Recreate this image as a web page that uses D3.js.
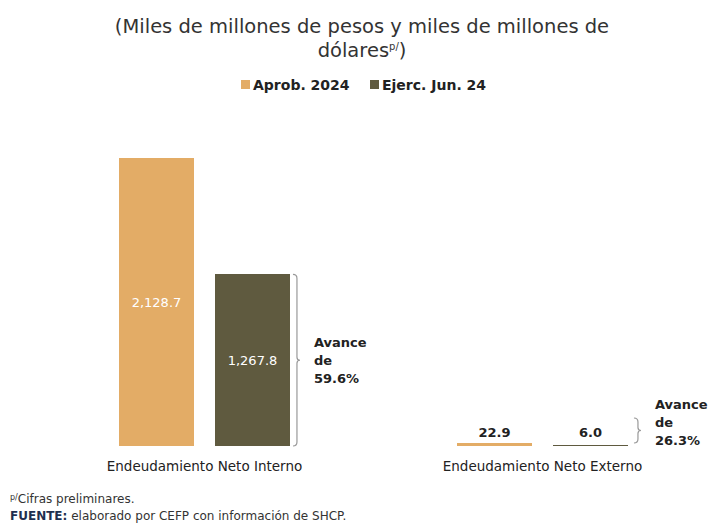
<!DOCTYPE html>
<html>
<head>
<meta charset="utf-8">
<title>Endeudamiento neto</title>
<script src="https://cdn.jsdelivr.net/npm/d3@7"></script>
<style>
  body { margin: 0; background: #fff; }
  text { font-family: "DejaVu Sans", sans-serif; }
</style>
</head>
<body>
<div id="chart"></div>
<script>
// data
var categories = ["Endeudamiento Neto Interno", "Endeudamiento Neto Externo"];
var series = ["Aprob. 2024", "Ejerc. Jun. 24"];
var aprob = [2128.7, 22.9];
var ejerc = [1267.8, 6.0];
var avance = ["59.6%", "26.3%"];
var colors = ["#E3AC66", "#5F5A3F"];

var width = 715, height = 525;
var baseY = 446, topY = 158;

var svg = d3.select("#chart").append("svg")
    .attr("width", width)
    .attr("height", height);

// title
svg.append("text")
    .attr("x", 362).attr("y", 33)
    .attr("text-anchor", "middle")
    .attr("font-size", "19.5px")
    .attr("fill", "#333")
    .text("(Miles de millones de pesos y miles de millones de");
var t2 = svg.append("text")
    .attr("x", 362).attr("y", 57)
    .attr("text-anchor", "middle")
    .attr("font-size", "19.5px")
    .attr("fill", "#333");
t2.append("tspan").text("dólares");
t2.append("tspan").attr("dy", -7).attr("font-size", "10px").text("p/");
t2.append("tspan").attr("dy", 7).text(")");

// legend
var legendX = [241, 370];
series.forEach(function (s, i) {
    svg.append("rect")
        .attr("x", legendX[i]).attr("y", 80)
        .attr("width", 9).attr("height", 9)
        .attr("fill", colors[i]);
    svg.append("text")
        .attr("x", legendX[i] + 12).attr("y", 90)
        .attr("font-size", "14px")
        .attr("font-weight", "bold")
        .attr("fill", "#222")
        .text(s);
});

var x = d3.scaleBand().domain(categories).range([35.5, 711.5]);
var xs = d3.scaleBand().domain(series).range([0, x.bandwidth()])
    .paddingInner(0.22).paddingOuter(0.87);
var y = d3.scaleLinear().domain([0, aprob[0]]).range([baseY, topY]);

var rows = categories.map(function (c, i) {
    return { cat: c, vals: [aprob[i], ejerc[i]], av: avance[i] };
});

var g = svg.append("g");
rows.forEach(function (r, ci) {
    r.vals.forEach(function (v, si) {
        var bx = x(r.cat) + xs(series[si]);
        g.append("rect")
            .attr("x", bx)
            .attr("y", y(v))
            .attr("width", xs.bandwidth())
            .attr("height", Math.max(baseY - y(v), 0))
            .attr("fill", colors[si])
            .attr("shape-rendering", "crispEdges");
        var inside = (baseY - y(v)) > 30;
        g.append("text")
            .attr("x", bx + xs.bandwidth() / 2)
            .attr("y", inside ? (y(v) + baseY) / 2 + 5 : baseY - 9)
            .attr("text-anchor", "middle")
            .attr("font-size", "13px")
            .attr("font-weight", inside ? "normal" : "bold")
            .attr("fill", inside ? "#fff" : "#222")
            .text(d3.format(",.1f")(v));
    });
    svg.append("text")
        .attr("x", x(r.cat) + x.bandwidth() / 2)
        .attr("y", baseY + 25)
        .attr("text-anchor", "middle")
        .attr("font-size", "13.5px")
        .attr("fill", "#222")
        .text(r.cat);
});

// braces with "Avance de" notes
function brace(bx, y0, y1) {
    var m = (y0 + y1) / 2;
    var p = "M" + (bx - 4) + "," + y0 + " Q" + bx + "," + y0 + " " + bx + "," + (y0 + 4) +
        " L" + bx + "," + (m - 3) + " Q" + bx + "," + m + " " + (bx + 3) + "," + m +
        " Q" + bx + "," + m + " " + bx + "," + (m + 3) +
        " L" + bx + "," + (y1 - 4) + " Q" + bx + "," + y1 + " " + (bx - 4) + "," + y1;
    svg.append("path").attr("d", p)
        .attr("fill", "none").attr("stroke", "#999").attr("stroke-width", 1.2);
}
var bx0 = x(categories[0]) + xs(series[1]) + xs.bandwidth() + 7;
brace(bx0, y(ejerc[0]), baseY);
var bx1 = x(categories[1]) + xs(series[1]) + xs.bandwidth() + 10;
brace(bx1, baseY - 28, baseY - 3);

function note(tx, ty, pct) {
    var t = svg.append("text")
        .attr("font-size", "13px")
        .attr("font-weight", "bold")
        .attr("fill", "#222");
    ["Avance", "de", pct].forEach(function (s, i) {
        t.append("tspan").attr("x", tx).attr("y", ty + i * 18).text(s);
    });
}
note(bx0 + 17, 347, avance[0]);
note(bx1 + 17, 409, avance[1]);

// footnotes
var f1 = svg.append("text").attr("x", 10).attr("y", 503)
    .attr("font-size", "12px").attr("fill", "#333");
f1.append("tspan").attr("font-size", "8px").attr("dy", -3).text("p/");
f1.append("tspan").attr("dy", 3).text("Cifras preliminares.");
var f2 = svg.append("text").attr("x", 10).attr("y", 520)
    .attr("font-size", "12px").attr("fill", "#333");
f2.append("tspan").attr("font-weight", "bold").attr("fill", "#1F2F4F").text("FUENTE:");
f2.append("tspan").text(" elaborado por CEFP con información de SHCP.");
</script>
</body>
</html>
